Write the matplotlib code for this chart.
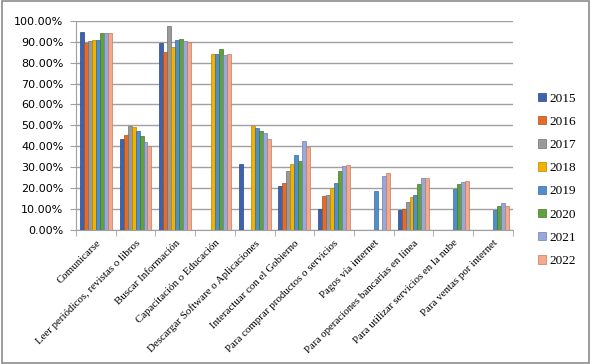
import matplotlib.pyplot as plt
import numpy as np
from matplotlib.patches import Rectangle
from matplotlib.ticker import PercentFormatter

categories = [
    "Comunicarse",
    "Leer periódicos, revistas o libros",
    "Buscar Información",
    "Capacitación o Educación",
    "Descargar Software o Aplicaciones",
    "Interactuar con el Gobierno",
    "Para comprar productos o servicios",
    "Pagos vía internet",
    "Para operaciones bancarias en línea",
    "Para utilizar servicios en la nube",
    "Para ventas por internet",
]
years = ["2015", "2016", "2017", "2018", "2019", "2020", "2021", "2022"]

v2015 = [94.5, 43.3, 89.3, 0, 31.5, 21.0, 10.0, 0, 9.5, 0, 0]
v2016 = [89.5, 45.5, 85.0, 0, 0, 22.3, 16.1, 0, 10.2, 0, 0]
v2017 = [90.5, 49.6, 97.5, 0, 0, 28.2, 16.7, 0, 13.2, 0, 0]
v2018 = [91.0, 49.0, 87.4, 84.3, 49.6, 31.5, 20.0, 0, 15.8, 0, 0]
v2019 = [91.0, 47.4, 91.0, 84.0, 48.7, 35.8, 22.4, 18.6, 16.9, 19.6, 9.5]
v2020 = [94.0, 44.9, 91.5, 86.3, 47.4, 33.1, 28.0, 0, 22.0, 21.8, 11.5]
v2021 = [94.0, 42.3, 90.4, 83.5, 46.2, 42.6, 30.5, 25.8, 24.8, 22.9, 12.9]
v2022 = [94.0, 40.3, 89.7, 83.9, 43.3, 39.6, 30.9, 27.2, 24.7, 23.4, 11.5]
series = [v2015, v2016, v2017, v2018, v2019, v2020, v2021, v2022]

colors = ["#3d63ad", "#e46c2a", "#9a9a9a", "#f2b200", "#4f8fcc", "#62a03f", "#97a9da", "#f4a88c"]
edges = ["#2b4680", "#a84e1e", "#6e6e6e", "#b58500", "#386a99", "#47752d", "#6f7fae", "#c07a62"]

fig = plt.figure(figsize=(5.91, 3.64), dpi=100)
ax = fig.add_axes([0.1286, 0.368, 0.739, 0.575])

x = np.arange(len(categories))
w = 0.1
for i, (vals, c, e) in enumerate(zip(series, colors, edges)):
    ax.bar(x - 0.35 + i * w, np.array(vals) / 100, width=w, color=c,
           edgecolor=e, linewidth=0.5, label=years[i], zorder=3)

ax.set_xlim(-0.5, len(categories) - 0.5)
ax.set_ylim(0, 1.0)
ax.set_yticks(np.arange(0, 1.01, 0.1))
ax.yaxis.set_major_formatter(PercentFormatter(1.0, decimals=2))
ax.grid(axis="y", color="#a0a0a0", linewidth=1.0, zorder=0)
for s in ["top", "right"]:
    ax.spines[s].set_visible(False)
ax.spines["left"].set_color("#a0a0a0")
ax.spines["bottom"].set_color("#a0a0a0")

ax.set_xticks(x)
ax.set_xticklabels(categories, rotation=45, ha="right", rotation_mode="anchor",
                   family="Liberation Serif", fontsize=7.8)
ax.set_xticks(np.arange(-0.5, len(categories)), minor=True)
ax.tick_params(axis="x", which="major", length=0, pad=6)
ax.tick_params(axis="x", which="minor", length=4, color="#a0a0a0")
ax.tick_params(axis="y", length=4, color="#a0a0a0", labelsize=8, pad=5)

leg = ax.legend(loc="center left", bbox_to_anchor=(1.03, 0.24), frameon=False,
                prop={"family": "Liberation Serif", "size": 9.5},
                handlelength=0.6, handleheight=0.6, handletextpad=0.3,
                labelspacing=0.85)

fig.patches.append(Rectangle((0.003, 0.004), 0.994, 0.992, transform=fig.transFigure,
                             fill=False, edgecolor="#8c8c8c", linewidth=1.2))

fig.savefig("out.png", dpi=100)
